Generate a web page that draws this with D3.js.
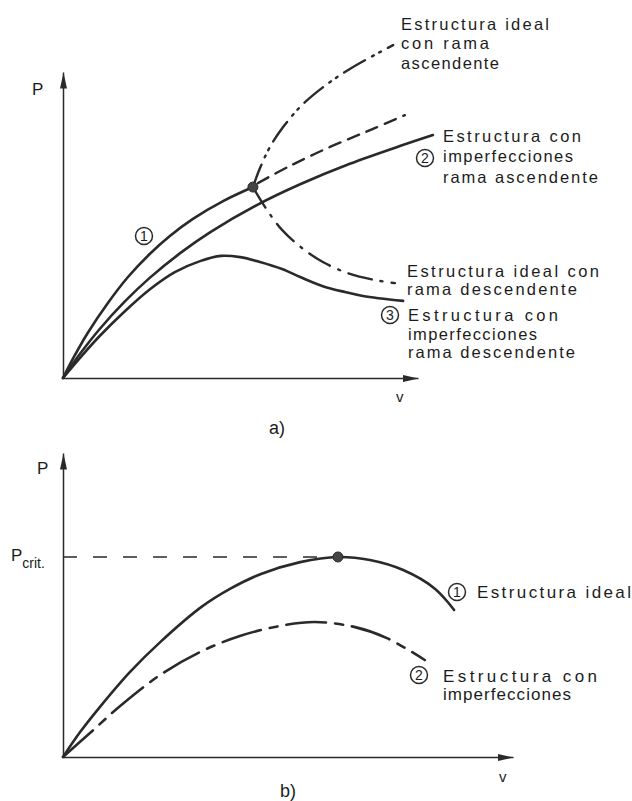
<!DOCTYPE html>
<html>
<head>
<meta charset="utf-8">
<script src="https://cdn.jsdelivr.net/npm/d3@7"></script>
<style>
  html, body { margin: 0; padding: 0; background: #ffffff; }
  svg { display: block; }
  text { font-family: "Liberation Sans", Arial, sans-serif; fill: #1c1c1c; }
</style>
</head>
<body>
<svg id="chart" width="632" height="801"></svg>
<script>
// ---------- DATA (chart units: v and P, 0..10 on each axis) ----------
// Panel a)
const aIdealPrimary = [[0,0],[0.28,0.63],[0.70,1.48],[1.27,2.46],[1.83,3.30],[2.45,4.06],[3.01,4.64],[3.66,5.20],[4.51,5.78],[5.35,6.24]];
const aImperfAsc = [[0,0],[0.48,0.79],[1.04,1.61],[1.75,2.51],[2.45,3.28],[3.30,4.08],[4.14,4.76],[5.46,5.65],[6.68,6.33],[8.08,7.00],[9.49,7.58],[10.42,7.94]];
const aImperfDesc = [[0,0],[0.48,0.66],[1.04,1.38],[1.75,2.19],[2.45,2.90],[3.15,3.46],[3.86,3.82],[4.45,3.99],[4.99,3.95],[5.55,3.79],[6.17,3.56],[6.68,3.30],[7.30,3.01],[7.94,2.81],[8.45,2.68],[9.58,2.52]];
const aIdealAsc = [[5.35,6.24],[5.55,6.86],[5.83,7.55],[6.20,8.20],[6.68,8.86],[7.30,9.48],[8.08,10.10],[9.30,10.88]];
const aDashed = [[5.49,6.37],[6.39,6.93],[7.52,7.55],[8.65,8.10],[9.63,8.59]];
const aIdealDesc = [[5.35,6.24],[5.69,5.59],[6.17,4.84],[6.73,4.25],[7.32,3.79],[8.08,3.40],[8.79,3.20],[9.35,3.10]];
const aBifurcation = [5.35, 6.24];

// Panel b)
const bIdeal = [[0,0],[0.38,0.82],[0.80,1.61],[1.49,2.80],[2.16,3.78],[3.07,4.93],[3.71,5.53],[4.40,6.02],[5.27,6.41],[6.11,6.58],[6.82,6.48],[7.56,6.15],[8.27,5.53],[8.69,4.84]];
const bImperf = [[0,0],[0.60,0.79],[1.27,1.68],[2.16,2.70],[3.04,3.45],[3.93,3.98],[4.82,4.31],[5.60,4.44],[6.47,4.28],[7.20,3.91],[8.04,3.19]];
const bCritical = [6.11, 6.58];

// Labels
const aLabels = [
  {t:"Estructura ideal", x:401, y:30, w:148},
  {t:"con rama", x:401, y:49, w:88},
  {t:"ascendente", x:401, y:69, w:98},
  {t:"Estructura con", x:443, y:142, w:138},
  {t:"imperfecciones", x:443, y:162, w:130},
  {t:"rama ascendente", x:443, y:183, w:155},
  {t:"Estructura ideal con", x:407, y:277, w:192},
  {t:"rama descendente", x:407, y:295, w:170},
  {t:"Estructura con", x:408, y:321, w:150},
  {t:"imperfecciones", x:408, y:340, w:129},
  {t:"rama descendente", x:408, y:358, w:167}
];
const aCircled = [{n:"1", x:144, y:236}, {n:"2", x:425, y:158}, {n:"3", x:390, y:315}];
const bLabels = [
  {t:"Estructura ideal", x:477, y:598, w:154},
  {t:"Estructura con", x:443, y:682, w:154},
  {t:"imperfecciones", x:443, y:700, w:128}
];
const bCircled = [{n:"1", x:457, y:592}, {n:"2", x:419, y:675}];

// ---------- DRAWING ----------
const svg = d3.select("#chart");
const ink = "#2a2a2a";

const defs = svg.append("defs");
defs.append("marker")
  .attr("id", "arrow")
  .attr("markerUnits", "userSpaceOnUse")
  .attr("markerWidth", 17).attr("markerHeight", 9)
  .attr("refX", 16).attr("refY", 4.5)
  .attr("orient", "auto")
  .append("path")
  .attr("d", "M0,1 L16,4.5 L0,8 Z")
  .attr("fill", ink);

function panel(xS, yS) {
  const g = svg.append("g");
  const ax = g.append("g").attr("transform", `translate(0,${yS(0)})`)
    .call(d3.axisBottom(xS).tickValues([]).tickSizeOuter(0));
  const ay = g.append("g").attr("transform", `translate(${xS(0)},0)`)
    .call(d3.axisLeft(yS).tickValues([]).tickSizeOuter(0));
  [ax, ay].forEach(a => a.select(".domain")
    .attr("stroke", ink).attr("stroke-width", 1.5)
    .attr("marker-end", "url(#arrow)"));
  return g;
}

function curve(g, xS, yS, data, dash, width) {
  const line = d3.line().x(d => xS(d[0])).y(d => yS(d[1]))
    .curve(d3.curveCatmullRom.alpha(0.5));
  g.append("path").datum(data)
    .attr("d", line)
    .attr("fill", "none")
    .attr("stroke", ink)
    .attr("stroke-width", width || 2.6)
    .attr("stroke-linecap", "round")
    .attr("stroke-dasharray", dash || null);
}

function labels(g, list, size) {
  list.forEach(l => {
    g.append("text").attr("x", l.x).attr("y", l.y)
      .attr("font-size", size)
      .attr("textLength", l.w).attr("lengthAdjust", "spacing")
      .text(l.t);
  });
}

function circled(g, list) {
  list.forEach(c => {
    g.append("circle").attr("cx", c.x).attr("cy", c.y).attr("r", 8.5)
      .attr("fill", "none").attr("stroke", ink).attr("stroke-width", 1.5);
    g.append("text").attr("x", c.x).attr("y", c.y + 5)
      .attr("text-anchor", "middle").attr("font-size", 14).text(c.n);
  });
}

// Panel a
const xA = d3.scaleLinear().domain([0, 10]).range([63, 418]);
const yA = d3.scaleLinear().domain([0, 10]).range([378, 72]);
const gA = panel(xA, yA);
curve(gA, xA, yA, aIdealPrimary);
curve(gA, xA, yA, aImperfAsc);
curve(gA, xA, yA, aImperfDesc);
curve(gA, xA, yA, aIdealAsc, "24,8,2,6,2,8", 2.4);
curve(gA, xA, yA, aDashed, "12,8", 2.4);
curve(gA, xA, yA, aIdealDesc, "24,9,2,9", 2.4);
gA.append("circle").attr("cx", xA(aBifurcation[0])).attr("cy", yA(aBifurcation[1]))
  .attr("r", 5).attr("fill", "#444").attr("stroke", ink);
labels(gA, aLabels, 16.5);
circled(gA, aCircled);
gA.append("text").attr("x", 32).attr("y", 95).attr("font-size", 17).text("P");
gA.append("text").attr("x", 396).attr("y", 402).attr("font-size", 15).text("v");
gA.append("text").attr("x", 277).attr("y", 434).attr("font-size", 18)
  .attr("text-anchor", "middle").text("a)");

// Panel b
const xB = d3.scaleLinear().domain([0, 10]).range([63, 513]);
const yB = d3.scaleLinear().domain([0, 10]).range([757, 453]);
const gB = panel(xB, yB);
gB.append("line")
  .attr("x1", xB(0)).attr("y1", yB(bCritical[1]))
  .attr("x2", xB(bCritical[0])).attr("y2", yB(bCritical[1]))
  .attr("stroke", ink).attr("stroke-width", 1.4)
  .attr("stroke-dasharray", "14,16");
curve(gB, xB, yB, bIdeal);
curve(gB, xB, yB, bImperf, "40,9,8,9", 2.6);
gB.append("circle").attr("cx", xB(bCritical[0])).attr("cy", yB(bCritical[1]))
  .attr("r", 5).attr("fill", "#444").attr("stroke", ink);
labels(gB, bLabels, 17);
circled(gB, bCircled);
gB.append("text").attr("x", 37).attr("y", 474).attr("font-size", 17).text("P");
const pc = gB.append("text").attr("x", 11).attr("y", 561).attr("font-size", 17);
pc.append("tspan").text("P");
pc.append("tspan").attr("dy", 7).attr("font-size", 14).text("crit.");
gB.append("text").attr("x", 499).attr("y", 782).attr("font-size", 15).text("v");
gB.append("text").attr("x", 288).attr("y", 797).attr("font-size", 18)
  .attr("text-anchor", "middle").text("b)");
</script>
</body>
</html>
